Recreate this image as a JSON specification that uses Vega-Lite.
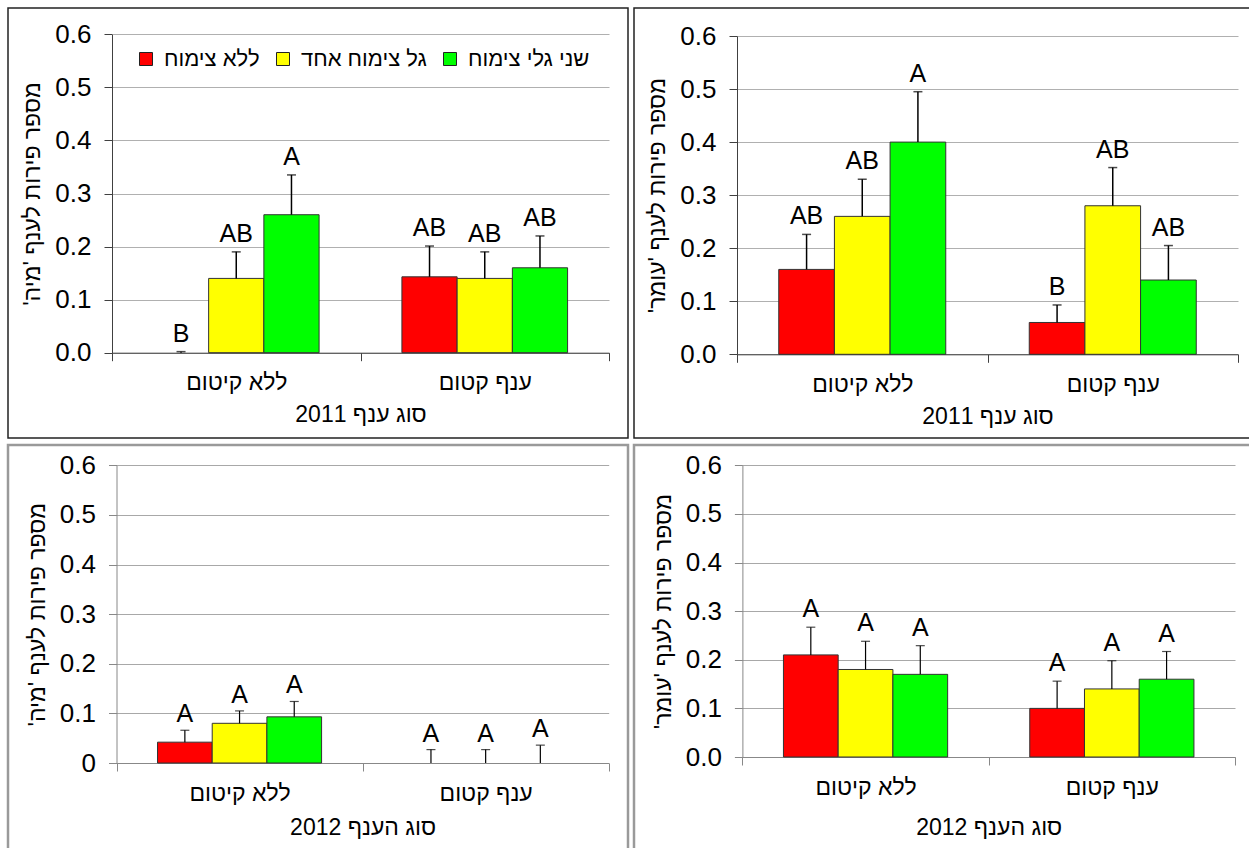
{
  "$schema": "https://vega.github.io/schema/vega-lite/v6.json",
  "padding": {"left": 6, "top": 7, "right": 0, "bottom": 0},
  "config": {
    "font": "Liberation Sans",
    "axis": {"labelColor": "#000", "titleColor": "#000", "titleFontWeight": "normal", "labelFont": "Liberation Sans", "titleFont": "Liberation Sans"},
    "legend": {"labelFont": "Liberation Sans", "labelColor": "#000"}
  },
  "datasets": {
    "mia2011": [
      {"branch": "ללא קיטום", "series": "ללא צימוח", "mean": 0, "hi": 0.002, "letter": "B"},
      {"branch": "ללא קיטום", "series": "גל צימוח אחד", "mean": 0.14, "hi": 0.19, "letter": "AB"},
      {"branch": "ללא קיטום", "series": "שני גלי צימוח", "mean": 0.26, "hi": 0.335, "letter": "A"},
      {"branch": "ענף קטום", "series": "ללא צימוח", "mean": 0.143, "hi": 0.201, "letter": "AB"},
      {"branch": "ענף קטום", "series": "גל צימוח אחד", "mean": 0.14, "hi": 0.19, "letter": "AB"},
      {"branch": "ענף קטום", "series": "שני גלי צימוח", "mean": 0.16, "hi": 0.22, "letter": "AB"}
    ],
    "omer2011": [
      {"branch": "ללא קיטום", "series": "ללא צימוח", "mean": 0.16, "hi": 0.226, "letter": "AB"},
      {"branch": "ללא קיטום", "series": "גל צימוח אחד", "mean": 0.26, "hi": 0.33, "letter": "AB"},
      {"branch": "ללא קיטום", "series": "שני גלי צימוח", "mean": 0.4, "hi": 0.495, "letter": "A"},
      {"branch": "ענף קטום", "series": "ללא צימוח", "mean": 0.06, "hi": 0.093, "letter": "B"},
      {"branch": "ענף קטום", "series": "גל צימוח אחד", "mean": 0.28, "hi": 0.352, "letter": "AB"},
      {"branch": "ענף קטום", "series": "שני גלי צימוח", "mean": 0.14, "hi": 0.205, "letter": "AB"}
    ],
    "mia2012": [
      {"branch": "ללא קיטום", "series": "ללא צימוח", "mean": 0.042, "hi": 0.066, "letter": "A"},
      {"branch": "ללא קיטום", "series": "גל צימוח אחד", "mean": 0.08, "hi": 0.105, "letter": "A"},
      {"branch": "ללא קיטום", "series": "שני גלי צימוח", "mean": 0.093, "hi": 0.124, "letter": "A"},
      {"branch": "ענף קטום", "series": "ללא צימוח", "mean": 0, "hi": 0.027, "letter": "A"},
      {"branch": "ענף קטום", "series": "גל צימוח אחד", "mean": 0, "hi": 0.027, "letter": "A"},
      {"branch": "ענף קטום", "series": "שני גלי צימוח", "mean": 0, "hi": 0.036, "letter": "A"}
    ],
    "omer2012": [
      {"branch": "ללא קיטום", "series": "ללא צימוח", "mean": 0.21, "hi": 0.267, "letter": "A"},
      {"branch": "ללא קיטום", "series": "גל צימוח אחד", "mean": 0.18, "hi": 0.238, "letter": "A"},
      {"branch": "ללא קיטום", "series": "שני גלי צימוח", "mean": 0.17, "hi": 0.229, "letter": "A"},
      {"branch": "ענף קטום", "series": "ללא צימוח", "mean": 0.1, "hi": 0.156, "letter": "A"},
      {"branch": "ענף קטום", "series": "גל צימוח אחד", "mean": 0.14, "hi": 0.198, "letter": "A"},
      {"branch": "ענף קטום", "series": "שני גלי צימוח", "mean": 0.16, "hi": 0.217, "letter": "A"}
    ]
  },
  "columns": 2,
  "spacing": {"row": 4, "column": 2},
  "resolve": {"scale": {"color": "independent", "x": "independent", "y": "independent", "xOffset": "independent"}, "legend": {"color": "independent"}},
  "concat": [
    {
      "width": 620, "height": 430,
      "view": {"stroke": "#222", "strokeWidth": 1.5},
      "data": {"name": "mia2011"},
      "encoding": {
        "x": {"field": "branch", "type": "nominal", "sort": ["ללא קיטום", "ענף קטום"],
          "scale": {"domain": ["ללא קיטום", "ענף קטום"], "range": [104, 601], "paddingInner": 0, "paddingOuter": 0},
          "axis": {"orient": "bottom", "offset": -85.3, "tickBand": "extent", "labelAngle": 0, "domainColor": "#404040", "tickColor": "#404040", "tickSize": 8, "labelFontSize": 23, "labelPadding": 11, "titleFontSize": 23, "titlePadding": 9},
          "title": "סוג ענף 2011"},
        "xOffset": {"field": "series", "type": "nominal", "sort": ["ללא צימוח", "גל צימוח אחד", "שני גלי צימוח"],
          "scale": {"domain": ["ללא צימוח", "גל צימוח אחד", "שני גלי צימוח"], "paddingInner": 0, "paddingOuter": 0.75}}
      },
      "layer": [
        {
          "transform": [{"filter": "datum.mean > 0"}],
          "mark": {"type": "bar", "stroke": "#333", "strokeWidth": 1},
          "encoding": {
            "y": {"field": "mean", "type": "quantitative", "title": "מספר פירות לענף 'מיה'\u200f",
              "scale": {"domain": [0, 0.6], "range": [344.7, 26.3], "nice": false, "zero": true},
              "axis": {"orient": "left", "offset": -104, "values": [0, 0.1, 0.2, 0.3, 0.4, 0.5, 0.6], "format": ".1f", "grid": true, "gridColor": "#b0b0b0", "domainColor": "#404040", "tickColor": "#404040", "tickSize": 8, "labelFontSize": 26, "labelPadding": 13, "titleFontSize": 23, "titlePadding": 10}},
            "color": {"field": "series", "type": "nominal",
              "scale": {"domain": ["ללא צימוח", "גל צימוח אחד", "שני גלי צימוח"], "range": ["#FF0000", "#FFFF00", "#00FF00"]},
              "legend": {"orient": "none", "legendX": 127, "legendY": 40, "padding": 0, "direction": "horizontal", "title": null, "symbolType": "square", "symbolSize": 169, "symbolStrokeColor": "#222", "symbolStrokeWidth": 1, "labelFontSize": 22, "labelOffset": 7, "columnPadding": 12, "labelLimit": 300}}
          }
        },
        {
          "mark": {"type": "rule", "color": "#000", "strokeWidth": 1.5},
          "encoding": {"y": {"field": "mean", "type": "quantitative", "title": "מספר פירות לענף 'מיה'\u200f"}, "y2": {"field": "hi"}}
        },
        {
          "mark": {"type": "tick", "color": "#000", "size": 9, "thickness": 1.5},
          "encoding": {"y": {"field": "hi", "type": "quantitative", "title": "מספר פירות לענף 'מיה'\u200f"}}
        },
        {
          "mark": {"type": "text", "fontSize": 25, "baseline": "alphabetic", "dy": -10, "color": "#000"},
          "encoding": {"y": {"field": "hi", "type": "quantitative", "title": "מספר פירות לענף 'מיה'\u200f"}, "text": {"field": "letter"}}
        }
      ]
    },
    {
      "width": 620, "height": 430,
      "view": {"stroke": "#222", "strokeWidth": 1.5},
      "data": {"name": "omer2011"},
      "encoding": {
        "x": {"field": "branch", "type": "nominal", "sort": ["ללא קיטום", "ענף קטום"],
          "scale": {"domain": ["ללא קיטום", "ענף קטום"], "range": [103, 604], "paddingInner": 0, "paddingOuter": 0},
          "axis": {"orient": "bottom", "offset": -83.7, "tickBand": "extent", "labelAngle": 0, "domainColor": "#404040", "tickColor": "#404040", "tickSize": 8, "labelFontSize": 23, "labelPadding": 11, "titleFontSize": 23, "titlePadding": 9},
          "title": "סוג ענף 2011"},
        "xOffset": {"field": "series", "type": "nominal", "sort": ["ללא צימוח", "גל צימוח אחד", "שני גלי צימוח"],
          "scale": {"domain": ["ללא צימוח", "גל צימוח אחד", "שני גלי צימוח"], "paddingInner": 0, "paddingOuter": 0.75}}
      },
      "layer": [
        {
          "transform": [{"filter": "datum.mean > 0"}],
          "mark": {"type": "bar", "stroke": "#333", "strokeWidth": 1},
          "encoding": {
            "y": {"field": "mean", "type": "quantitative", "title": "מספר פירות לענף 'עומר'\u200f",
              "scale": {"domain": [0, 0.6], "range": [346.3, 28], "nice": false, "zero": true},
              "axis": {"orient": "left", "offset": -103, "values": [0, 0.1, 0.2, 0.3, 0.4, 0.5, 0.6], "format": ".1f", "grid": true, "gridColor": "#b0b0b0", "domainColor": "#404040", "tickColor": "#404040", "tickSize": 8, "labelFontSize": 26, "labelPadding": 13, "titleFontSize": 23, "titlePadding": 10}},
            "color": {"field": "series", "type": "nominal",
              "scale": {"domain": ["ללא צימוח", "גל צימוח אחד", "שני גלי צימוח"], "range": ["#FF0000", "#FFFF00", "#00FF00"]},
              "legend": null}
          }
        },
        {
          "mark": {"type": "rule", "color": "#000", "strokeWidth": 1.5},
          "encoding": {"y": {"field": "mean", "type": "quantitative", "title": "מספר פירות לענף 'עומר'\u200f"}, "y2": {"field": "hi"}}
        },
        {
          "mark": {"type": "tick", "color": "#000", "size": 9, "thickness": 1.5},
          "encoding": {"y": {"field": "hi", "type": "quantitative", "title": "מספר פירות לענף 'עומר'\u200f"}}
        },
        {
          "mark": {"type": "text", "fontSize": 25, "baseline": "alphabetic", "dy": -10, "color": "#000"},
          "encoding": {"y": {"field": "hi", "type": "quantitative", "title": "מספר פירות לענף 'עומר'\u200f"}, "text": {"field": "letter"}}
        }
      ]
    },
    {
      "width": 620, "height": 410,
      "view": {"stroke": "#9a9a9a", "strokeWidth": 2.5},
      "data": {"name": "mia2012"},
      "encoding": {
        "x": {"field": "branch", "type": "nominal", "sort": ["ללא קיטום", "ענף קטום"],
          "scale": {"domain": ["ללא קיטום", "ענף קטום"], "range": [108.5, 600.7], "paddingInner": 0, "paddingOuter": 0},
          "axis": {"orient": "bottom", "offset": -92, "tickBand": "extent", "labelAngle": 0, "domainColor": "#888", "tickColor": "#888", "tickSize": 8, "labelFontSize": 23, "labelPadding": 11, "titleFontSize": 23, "titlePadding": 11},
          "title": "סוג הענף 2012"},
        "xOffset": {"field": "series", "type": "nominal", "sort": ["ללא צימוח", "גל צימוח אחד", "שני גלי צימוח"],
          "scale": {"domain": ["ללא צימוח", "גל צימוח אחד", "שני גלי צימוח"], "paddingInner": 0, "paddingOuter": 0.75}}
      },
      "layer": [
        {
          "transform": [{"filter": "datum.mean > 0"}],
          "mark": {"type": "bar", "stroke": "#333", "strokeWidth": 1},
          "encoding": {
            "y": {"field": "mean", "type": "quantitative", "title": "מספר פירות לענף 'מיה'\u200f",
              "scale": {"domain": [0, 0.6], "range": [318, 20.3], "nice": false, "zero": true},
              "axis": {"orient": "left", "offset": -108.5, "values": [0, 0.1, 0.2, 0.3, 0.4, 0.5, 0.6], "labelExpr": "datum.value == 0 ? '0' : format(datum.value, '.1f')", "grid": true, "gridColor": "#a8a8a8", "domainColor": "#888", "tickColor": "#888", "tickSize": 8, "labelFontSize": 26, "labelPadding": 13, "titleFontSize": 23, "titlePadding": 10}},
            "color": {"field": "series", "type": "nominal",
              "scale": {"domain": ["ללא צימוח", "גל צימוח אחד", "שני גלי צימוח"], "range": ["#FF0000", "#FFFF00", "#00FF00"]},
              "legend": null}
          }
        },
        {
          "mark": {"type": "rule", "color": "#000", "strokeWidth": 1.2},
          "encoding": {"y": {"field": "mean", "type": "quantitative", "title": "מספר פירות לענף 'מיה'\u200f"}, "y2": {"field": "hi"}}
        },
        {
          "mark": {"type": "tick", "color": "#000", "size": 9, "thickness": 1.2},
          "encoding": {"y": {"field": "hi", "type": "quantitative", "title": "מספר פירות לענף 'מיה'\u200f"}}
        },
        {
          "mark": {"type": "text", "fontSize": 25, "baseline": "alphabetic", "dy": -8, "color": "#000"},
          "encoding": {"y": {"field": "hi", "type": "quantitative", "title": "מספר פירות לענף 'מיה'\u200f"}, "text": {"field": "letter"}}
        }
      ]
    },
    {
      "width": 620, "height": 410,
      "view": {"stroke": "#9a9a9a", "strokeWidth": 2.5},
      "data": {"name": "omer2012"},
      "encoding": {
        "x": {"field": "branch", "type": "nominal", "sort": ["ללא קיטום", "ענף קטום"],
          "scale": {"domain": ["ללא קיטום", "ענף קטום"], "range": [108.4, 601], "paddingInner": 0, "paddingOuter": 0},
          "axis": {"orient": "bottom", "offset": -98, "tickBand": "extent", "labelAngle": 0, "domainColor": "#888", "tickColor": "#888", "tickSize": 8, "labelFontSize": 23, "labelPadding": 11, "titleFontSize": 23, "titlePadding": 17},
          "title": "סוג הענף 2012"},
        "xOffset": {"field": "series", "type": "nominal", "sort": ["ללא צימוח", "גל צימוח אחד", "שני גלי צימוח"],
          "scale": {"domain": ["ללא צימוח", "גל צימוח אחד", "שני גלי צימוח"], "paddingInner": 0, "paddingOuter": 0.75}}
      },
      "layer": [
        {
          "transform": [{"filter": "datum.mean > 0"}],
          "mark": {"type": "bar", "stroke": "#333", "strokeWidth": 1},
          "encoding": {
            "y": {"field": "mean", "type": "quantitative", "title": "מספר פירות לענף 'עומר'\u200f",
              "scale": {"domain": [0, 0.6], "range": [312, 20.3], "nice": false, "zero": true},
              "axis": {"orient": "left", "offset": -108.4, "values": [0, 0.1, 0.2, 0.3, 0.4, 0.5, 0.6], "format": ".1f", "grid": true, "gridColor": "#a8a8a8", "domainColor": "#888", "tickColor": "#888", "tickSize": 8, "labelFontSize": 26, "labelPadding": 13, "titleFontSize": 23, "titlePadding": 10}},
            "color": {"field": "series", "type": "nominal",
              "scale": {"domain": ["ללא צימוח", "גל צימוח אחד", "שני גלי צימוח"], "range": ["#FF0000", "#FFFF00", "#00FF00"]},
              "legend": null}
          }
        },
        {
          "mark": {"type": "rule", "color": "#000", "strokeWidth": 1.2},
          "encoding": {"y": {"field": "mean", "type": "quantitative", "title": "מספר פירות לענף 'עומר'\u200f"}, "y2": {"field": "hi"}}
        },
        {
          "mark": {"type": "tick", "color": "#000", "size": 9, "thickness": 1.2},
          "encoding": {"y": {"field": "hi", "type": "quantitative", "title": "מספר פירות לענף 'עומר'\u200f"}}
        },
        {
          "mark": {"type": "text", "fontSize": 25, "baseline": "alphabetic", "dy": -10, "color": "#000"},
          "encoding": {"y": {"field": "hi", "type": "quantitative", "title": "מספר פירות לענף 'עומר'\u200f"}, "text": {"field": "letter"}}
        }
      ]
    }
  ]
}
